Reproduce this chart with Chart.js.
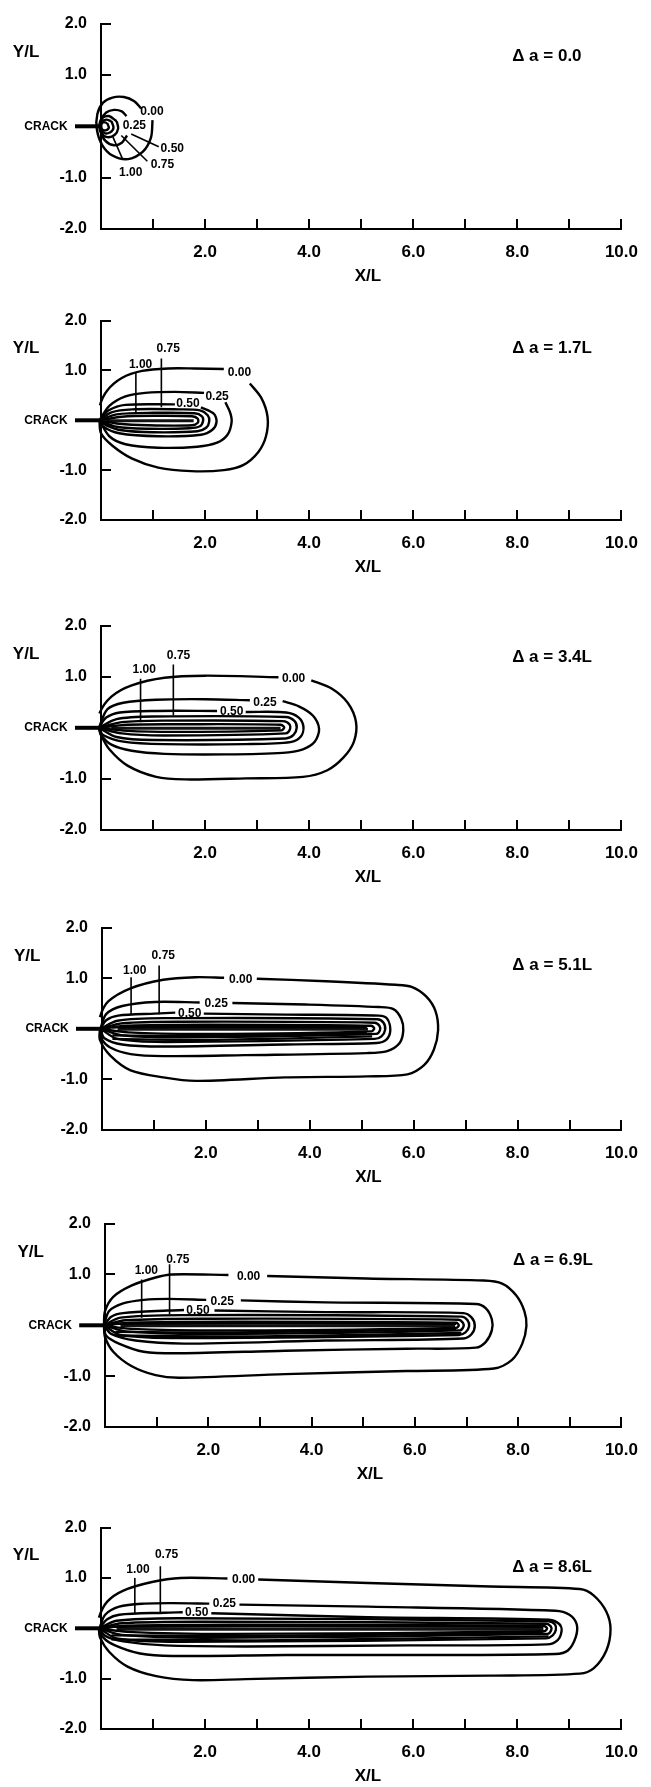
<!DOCTYPE html>
<html>
<head>
<meta charset="utf-8">
<title>Contours ahead of a growing crack</title>
<script src="https://cdn.jsdelivr.net/npm/chart.js"></script>
<style>
  body { margin: 0; background: #fff; width: 651px; height: 1787px; overflow: hidden; position: relative; }
  canvas { position: absolute; left: 0; }
</style>
</head>
<body>
<canvas id="c0" width="651" height="300"></canvas>
<canvas id="c1" width="651" height="300"></canvas>
<canvas id="c2" width="651" height="300"></canvas>
<canvas id="c3" width="651" height="300"></canvas>
<canvas id="c4" width="651" height="300"></canvas>
<canvas id="c5" width="651" height="300"></canvas>
<script>
// ---- data (X/L, Y/L) ----
const xTicks = [0, 1, 2, 3, 4, 5, 6, 7, 8, 9, 10];
const yTicks = [-2, -1, 0, 1, 2];
const deltaText = ['Δ a = 0.0', 'Δ a = 1.7L', 'Δ a = 3.4L', 'Δ a = 5.1L', 'Δ a = 6.9L', 'Δ a = 8.6L'];
const deltaY = [1.37, 1.44, 1.38, 1.26, 1.28, 1.21];
const crackLine = [[-0.5, 0], [0, 0]];

// panel 1, da = 0
const p1c000 = [[0.99,0.12],[0.96,-0.22],[0.8,-0.5],[0.52,-0.64],[0.22,-0.57],[0.02,-0.36],[-0.08,-0.06],[-0.07,0.24],[0.04,0.46],[0.22,0.56],[0.44,0.57],[0.64,0.49],[0.77,0.35]];
const p1c025 = [[0.5,-0.18],[0.4,-0.32],[0.25,-0.37],[0.08,-0.28],[0.0,-0.1],[0.01,0.13],[0.1,0.27],[0.25,0.32],[0.4,0.29],[0.49,0.2]];
const p1c050 = [[0.3,0.1],[0.15,0.2],[0.02,0.16],[-0.03,0.02],[0.0,-0.13],[0.12,-0.21],[0.26,-0.17],[0.33,-0.04],[0.3,0.1]];
const p1c075 = [[0.2,0.1],[0.1,0.13],[0.0,0.08],[-0.01,-0.04],[0.06,-0.13],[0.17,-0.12],[0.24,-0.03],[0.2,0.1]];
const p1c100 = [[0.12,0.06],[0.05,0.08],[0.0,0.02],[0.02,-0.06],[0.09,-0.08],[0.15,-0.03],[0.12,0.06]];
const p1l050 = [[0.58,-0.15],[1.11,-0.4]];
const p1l075 = [[0.39,-0.18],[0.89,-0.68]];
const p1l100 = [[0.23,-0.21],[0.42,-0.65]];
const p1Labels = [['0.00',0.98,0.28],['0.25',0.64,0.02],['0.50',1.37,-0.44],['0.75',1.18,-0.74],['1.00',0.57,-0.9]];

// panel 2, da = 1.7L
const p2c000a = [[-0.03,0.0],[-0.02,0.3],[0.12,0.6],[0.4,0.85],[0.79,0.99],[1.29,1.04],[1.8,1.04],[2.36,1.03]];
const p2c000b = [[2.86,0.74],[3.08,0.45],[3.2,0.07],[3.17,-0.32],[3.02,-0.64],[2.73,-0.9],[2.36,-1.0],[1.73,-1.02],[1.1,-0.95],[0.6,-0.77],[0.22,-0.51],[0.0,-0.26],[-0.03,0.0]];
const p2c025a = [[-0.03,0.0],[0.16,0.29],[0.47,0.48],[0.85,0.55],[1.42,0.57],[1.98,0.55]];
const p2c025b = [[2.39,0.36],[2.48,0.16],[2.51,-0.03],[2.43,-0.29],[2.23,-0.45],[1.85,-0.53],[1.1,-0.55],[0.47,-0.48],[0.16,-0.32],[-0.03,0.0]];
const p2c050a = [[-0.03,0.0],[0.15,0.2],[0.47,0.31],[1.42,0.32]];
const p2c050b = [[1.92,0.26],[2.17,0.13],[2.22,-0.03],[2.14,-0.19],[1.92,-0.29],[1.1,-0.32],[0.35,-0.26],[0.03,-0.12],[-0.03,0.0]];
const p2c075 = [[-0.03,0.0],[0.2,0.16],[0.6,0.22],[1.5,0.22],[1.9,0.2],[2.05,0.1],[2.08,-0.02],[2.02,-0.15],[1.85,-0.22],[1.0,-0.24],[0.4,-0.2],[0.1,-0.1],[-0.03,0.0]];
const p2c100 = [[-0.03,0.0],[0.3,0.12],[1.0,0.15],[1.8,0.14],[1.94,0.08],[1.96,-0.02],[1.9,-0.12],[1.7,-0.16],[0.9,-0.17],[0.3,-0.13],[-0.03,0.0]];
const p2c125 = [[-0.03,0.0],[0.4,0.07],[1.0,0.09],[1.75,0.08],[1.86,0.03],[1.86,-0.05],[1.75,-0.1],[0.9,-0.1],[0.35,-0.07],[-0.03,0.0]];
const p2core = [[0.1,-0.01],[1.78,-0.01]];
const p2l100 = [[0.67,0.97],[0.67,0.13]];
const p2l075 = [[1.16,1.24],[1.16,0.26]];
const p2Labels = [['0.00',2.66,0.95],['0.25',2.23,0.47],['0.50',1.67,0.34],['1.00',0.76,1.12],['0.75',1.29,1.44]];

// panel 3, da = 3.4L
const p3c000a = [[-0.04,0.0],[-0.03,0.28],[0.2,0.61],[0.59,0.83],[1.22,0.98],[2.0,1.02],[3.41,0.99]];
const p3c000b = [[4.04,0.93],[4.43,0.77],[4.74,0.49],[4.9,0.11],[4.86,-0.27],[4.66,-0.58],[4.35,-0.83],[3.88,-0.96],[2.78,-0.99],[1.61,-1.01],[1.06,-0.96],[0.51,-0.74],[0.16,-0.42],[0.0,-0.14],[-0.04,0.0]];
const p3c025a = [[-0.04,0.0],[0.12,0.36],[0.43,0.49],[1.06,0.55],[2.0,0.56],[2.86,0.54]];
const p3c025b = [[3.49,0.52],[3.8,0.42],[4.07,0.24],[4.19,-0.02],[4.11,-0.27],[3.88,-0.42],[3.49,-0.49],[2.39,-0.52],[1.22,-0.51],[0.59,-0.45],[0.2,-0.33],[0.0,-0.14],[-0.04,0.0]];
const p3c050a = [[-0.04,0.0],[0.1,0.2],[0.36,0.3],[1.06,0.33],[2.23,0.33]];
const p3c050b = [[2.78,0.31],[3.56,0.3],[3.8,0.2],[3.89,0.02],[3.84,-0.17],[3.64,-0.28],[2.78,-0.32],[1.22,-0.32],[0.43,-0.27],[0.04,-0.14],[-0.04,0.0]];
const p3c075 = [[-0.04,0.0],[0.3,0.17],[1.0,0.22],[3.55,0.21],[3.72,0.13],[3.76,0.0],[3.7,-0.14],[3.55,-0.21],[1.0,-0.24],[0.3,-0.18],[-0.04,0.0]];
const p3c100 = [[-0.04,0.0],[0.4,0.11],[1.2,0.14],[3.5,0.13],[3.62,0.07],[3.63,-0.03],[3.55,-0.11],[1.2,-0.15],[0.4,-0.11],[-0.04,0.0]];
const p3c125 = [[-0.04,0.0],[0.5,0.06],[1.5,0.07],[3.45,0.06],[3.52,0.01],[3.47,-0.05],[1.5,-0.08],[0.5,-0.06],[-0.04,0.0]];
const p3core = [[0.2,-0.01],[3.45,-0.01]];
const p3l100 = [[0.76,0.96],[0.76,0.11]];
const p3l075 = [[1.39,1.24],[1.39,0.24]];
const p3Labels = [['0.00',3.7,0.96],['0.25',3.15,0.5],['0.50',2.51,0.31],['1.00',0.83,1.13],['0.75',1.49,1.41]];

// panel 4, da = 5.1L
const p4c000a = [[-0.04,0.0],[-0.04,0.23],[0.12,0.54],[0.55,0.8],[1.18,0.97],[1.8,1.02],[2.35,1.01]];
const p4c000b = [[2.98,0.99],[4.31,0.94],[5.65,0.87],[5.96,0.83],[6.24,0.64],[6.42,0.35],[6.47,-0.03],[6.39,-0.41],[6.2,-0.72],[5.88,-0.9],[5.1,-0.94],[3.53,-0.96],[1.8,-1.03],[1.18,-0.96],[0.55,-0.82],[0.16,-0.53],[-0.04,-0.22],[-0.04,0.0]];
const p4c025a = [[-0.03,0.0],[0.08,0.29],[0.39,0.45],[1.02,0.53],[1.88,0.52]];
const p4c025b = [[2.51,0.51],[3.92,0.48],[5.33,0.43],[5.61,0.39],[5.76,0.2],[5.8,-0.03],[5.73,-0.28],[5.49,-0.44],[5.1,-0.48],[2.75,-0.52],[1.18,-0.54],[0.55,-0.5],[0.16,-0.37],[-0.02,-0.18],[-0.03,0.0]];
const p4c050a = [[-0.03,0.0],[0.08,0.17],[0.31,0.26],[1.02,0.3],[1.41,0.32]];
const p4c050b = [[1.96,0.3],[3.53,0.28],[5.33,0.26],[5.49,0.2],[5.55,-0.03],[5.47,-0.22],[5.29,-0.28],[3.53,-0.31],[1.18,-0.35],[0.39,-0.31],[0.04,-0.18],[-0.03,0.0]];
const p4c075 = [[-0.03,0.0],[0.3,0.16],[1.2,0.21],[5.3,0.19],[5.42,0.12],[5.45,-0.02],[5.38,-0.15],[5.25,-0.2],[1.2,-0.26],[0.3,-0.2],[-0.03,0.0]];
const p4c100 = [[-0.03,0.0],[0.4,0.11],[1.5,0.14],[5.25,0.12],[5.34,0.06],[5.35,-0.03],[5.28,-0.1],[1.5,-0.17],[0.4,-0.13],[-0.03,0.0]];
const p4c125 = [[-0.03,0.0],[0.5,0.06],[2.0,0.08],[5.18,0.06],[5.24,0.01],[5.19,-0.05],[2.0,-0.1],[0.5,-0.07],[-0.03,0.0]];
const p4c150 = [[0.2,-0.13],[2.0,-0.14],[5.1,-0.08]];
const p4c175 = [[0.2,0.03],[2.0,0.04],[5.1,0.03]];
const p4c200 = [[0.2,-0.2],[2.0,-0.22],[5.2,-0.15]];
const p4core = [[0.3,-0.01],[5.12,-0.01]];
const p4l100 = [[0.56,1.02],[0.56,0.29]];
const p4l075 = [[1.1,1.25],[1.1,0.29]];
const p4Labels = [['0.00',2.67,0.98],['0.25',2.2,0.5],['0.50',1.69,0.29],['1.00',0.63,1.15],['0.75',1.18,1.44]];

// panel 5, da = 6.9L
const p5c000a = [[-0.02,0.0],[0.0,0.28],[0.16,0.56],[0.51,0.78],[0.98,0.94],[1.29,1.0],[2.39,0.99]];
const p5c000b = [[3.14,0.97],[5.06,0.92],[7.33,0.88],[7.69,0.82],[7.96,0.59],[8.12,0.28],[8.16,-0.01],[8.08,-0.36],[7.88,-0.68],[7.53,-0.85],[5.84,-0.9],[3.49,-0.96],[1.45,-1.03],[0.98,-0.98],[0.51,-0.8],[0.16,-0.52],[0.0,-0.23],[-0.02,0.0]];
const p5c025a = [[-0.02,0.0],[0.08,0.28],[0.35,0.43],[0.75,0.5],[1.22,0.52],[1.96,0.5]];
const p5c025b = [[2.63,0.49],[4.27,0.45],[7.18,0.42],[7.37,0.34],[7.49,0.12],[7.49,-0.1],[7.37,-0.33],[7.18,-0.44],[5.84,-0.46],[3.49,-0.5],[1.45,-0.55],[0.75,-0.52],[0.27,-0.36],[0.02,-0.2],[-0.02,0.0]];
const p5c050a = [[-0.02,0.0],[0.12,0.17],[0.35,0.24],[1.22,0.29],[1.53,0.3]];
const p5c050b = [[2.12,0.29],[4.27,0.26],[6.94,0.24],[7.1,0.15],[7.16,-0.01],[7.1,-0.17],[6.94,-0.26],[4.27,-0.3],[1.53,-0.36],[0.59,-0.3],[0.12,-0.17],[-0.02,0.0]];
const p5c075 = [[-0.02,0.0],[0.3,0.15],[1.5,0.2],[6.9,0.17],[7.02,0.1],[7.05,-0.02],[6.98,-0.14],[6.85,-0.19],[1.5,-0.25],[0.3,-0.19],[-0.02,0.0]];
const p5c100 = [[-0.02,0.0],[0.4,0.1],[2.0,0.13],[6.85,0.11],[6.93,0.05],[6.94,-0.03],[6.87,-0.1],[2.0,-0.17],[0.4,-0.12],[-0.02,0.0]];
const p5c125 = [[-0.02,0.0],[0.5,0.05],[2.5,0.07],[6.8,0.05],[6.85,0.0],[6.8,-0.05],[2.5,-0.1],[0.5,-0.07],[-0.02,0.0]];
const p5c150 = [[0.2,-0.13],[2.5,-0.14],[6.8,-0.08]];
const p5c175 = [[0.2,0.03],[3.0,0.04],[6.8,0.03]];
const p5c200 = [[0.2,-0.2],[3.0,-0.22],[6.9,-0.15]];
const p5core = [[0.3,-0.01],[6.78,-0.01]];
const p5l100 = [[0.71,0.9],[0.71,0.15]];
const p5l075 = [[1.25,1.2],[1.25,0.21]];
const p5Labels = [['0.00',2.78,0.95],['0.25',2.27,0.46],['0.50',1.8,0.29],['1.00',0.8,1.08],['0.75',1.41,1.3]];

// panel 6, da = 8.6L
const p6c000a = [[-0.04,0.0],[-0.04,0.21],[0.12,0.53],[0.43,0.75],[0.98,0.92],[1.53,1.0],[2.43,0.99]];
const p6c000b = [[3.02,0.97],[5.13,0.9],[7.48,0.83],[9.2,0.78],[9.47,0.65],[9.71,0.33],[9.79,-0.02],[9.71,-0.44],[9.47,-0.79],[9.2,-0.9],[7.48,-0.94],[5.13,-0.96],[2.78,-1.01],[1.77,-1.03],[1.06,-0.95],[0.51,-0.76],[0.16,-0.47],[-0.02,-0.18],[-0.04,0.0]];
const p6c025a = [[-0.03,0.0],[0.08,0.27],[0.35,0.43],[0.83,0.49],[1.37,0.5],[2.08,0.49]];
const p6c025b = [[2.66,0.47],[5.13,0.43],[8.73,0.35],[9.0,0.27],[9.14,0.08],[9.12,-0.18],[8.97,-0.44],[8.73,-0.51],[5.91,-0.53],[3.56,-0.53],[1.37,-0.55],[0.75,-0.5],[0.27,-0.34],[0.04,-0.18],[-0.03,0.0]];
const p6c050a = [[-0.03,0.0],[0.12,0.18],[0.35,0.27],[1.22,0.31],[1.57,0.32]];
const p6c050b = [[2.12,0.3],[5.13,0.22],[8.61,0.17],[8.81,0.08],[8.85,-0.05],[8.77,-0.24],[8.57,-0.32],[5.91,-0.34],[2.78,-0.36],[1.22,-0.34],[0.43,-0.26],[0.08,-0.15],[-0.03,0.0]];
const p6c075 = [[-0.03,0.0],[0.3,0.15],[1.5,0.2],[8.6,0.14],[8.72,0.08],[8.74,-0.03],[8.68,-0.14],[8.55,-0.2],[1.5,-0.27],[0.3,-0.2],[-0.03,0.0]];
const p6c100 = [[-0.03,0.0],[0.4,0.1],[2.0,0.13],[8.55,0.09],[8.64,0.04],[8.65,-0.04],[8.58,-0.11],[2.0,-0.19],[0.4,-0.13],[-0.03,0.0]];
const p6c125 = [[-0.03,0.0],[0.5,0.05],[2.5,0.07],[8.5,0.05],[8.57,0.0],[8.52,-0.06],[2.5,-0.11],[0.5,-0.07],[-0.03,0.0]];
const p6c150 = [[0.2,-0.14],[3.0,-0.15],[8.5,-0.09]];
const p6c175 = [[0.2,0.03],[3.0,0.04],[8.5,0.03]];
const p6c200 = [[0.2,-0.22],[3.0,-0.24],[8.6,-0.16]];
const p6core = [[0.3,-0.02],[8.5,-0.02]];
const p6l100 = [[0.65,1.0],[0.65,0.3]];
const p6l075 = [[1.14,1.23],[1.14,0.3]];
const p6Labels = [['0.00',2.74,0.96],['0.25',2.37,0.48],['0.50',1.84,0.32],['1.00',0.71,1.17],['0.75',1.26,1.46]];

// ---- layout of the six stacked panels (page pixels) ----
const plotTop = [16, 313, 618, 920, 1216, 1520];
const plotBottom = [229, 520, 830, 1130, 1427, 1729];
const plotLeft = [101, 101, 101, 102, 105, 101];
const plotRight = [633, 633, 634, 635, 637, 635];
const PAD_TOP = 16, CANVAS_H = 300;
const FONT = "'Liberation Sans', Arial, sans-serif";

const panels = [
  { contours: [p1c000, p1c025, p1c050, p1c075, p1c100], leaders: [p1l050, p1l075, p1l100], core: null, labels: p1Labels },
  { contours: [p2c000a, p2c000b, p2c025a, p2c025b, p2c050a, p2c050b, p2c075, p2c100, p2c125], leaders: [p2l100, p2l075], core: p2core, labels: p2Labels },
  { contours: [p3c000a, p3c000b, p3c025a, p3c025b, p3c050a, p3c050b, p3c075, p3c100, p3c125], leaders: [p3l100, p3l075], core: p3core, labels: p3Labels },
  { contours: [p4c000a, p4c000b, p4c025a, p4c025b, p4c050a, p4c050b, p4c075, p4c100, p4c125, p4c150, p4c175, p4c200], leaders: [p4l100, p4l075], core: p4core, labels: p4Labels },
  { contours: [p5c000a, p5c000b, p5c025a, p5c025b, p5c050a, p5c050b, p5c075, p5c100, p5c125, p5c150, p5c175, p5c200], leaders: [p5l100, p5l075], core: p5core, labels: p5Labels },
  { contours: [p6c000a, p6c000b, p6c025a, p6c025b, p6c050a, p6c050b, p6c075, p6c100, p6c125, p6c150, p6c175, p6c200], leaders: [p6l100, p6l075], core: p6core, labels: p6Labels }
];

const pts = arr => arr.map(p => ({ x: p[0], y: p[1] }));

// inward tick marks and the free text of each panel
const panelText = {
  id: 'panelText',
  afterDraw(chart, args, opts) {
    const { ctx, chartArea: a, scales: { x, y } } = chart;
    ctx.save();
    ctx.strokeStyle = '#000';
    ctx.lineWidth = 2;
    ctx.beginPath();
    xTicks.forEach(v => {
      if (v === 0) return;
      const px = Math.round(x.getPixelForValue(v));
      ctx.moveTo(px, a.bottom);
      ctx.lineTo(px, a.bottom - 10);
    });
    yTicks.forEach(v => {
      if (v === 0) return;
      const py = Math.round(y.getPixelForValue(v));
      ctx.moveTo(a.left, py);
      ctx.lineTo(a.left + 10, py);
    });
    ctx.stroke();

    ctx.fillStyle = '#000';
    ctx.textBaseline = 'middle';
    // crack label
    ctx.font = 'bold 12px ' + FONT;
    ctx.textAlign = 'right';
    ctx.fillText('CRACK', x.getPixelForValue(-0.64), y.getPixelForValue(0));
    // axis names
    ctx.font = 'bold 17px ' + FONT;
    ctx.textAlign = 'center';
    ctx.fillText('Y/L', x.getPixelForValue(-1.44), y.getPixelForValue(1.44));
    ctx.fillText('X/L', x.getPixelForValue(5.13), a.bottom + 47);
    // crack extension
    ctx.font = 'bold 17px ' + FONT;
    ctx.textAlign = 'left';
    ctx.fillText(opts.delta, x.getPixelForValue(7.9), y.getPixelForValue(opts.deltaY));
    // contour values
    ctx.font = 'bold 12px ' + FONT;
    ctx.textAlign = 'center';
    opts.labels.forEach(l => ctx.fillText(l[0], x.getPixelForValue(l[1]), y.getPixelForValue(l[2])));
    ctx.restore();
  }
};

panels.forEach((p, i) => {
  const cv = document.getElementById('c' + i);
  cv.style.top = (plotTop[i] - PAD_TOP) + 'px';
  const plotH = plotBottom[i] - plotTop[i];

  const datasets = [];
  p.contours.forEach(c => datasets.push({ data: pts(c), borderColor: '#000', borderWidth: 2.4, tension: 0.3 }));
  if (p.core) datasets.push({ data: pts(p.core), borderColor: '#111', borderWidth: 3, tension: 0 });
  p.leaders.forEach(l => datasets.push({ data: pts(l), borderColor: '#000', borderWidth: 1.6, tension: 0 }));
  datasets.push({ data: pts(crackLine), borderColor: '#000', borderWidth: 4, tension: 0 });

  new Chart(cv, {
    type: 'scatter',
    data: { datasets: datasets },
    options: {
      responsive: false,
      animation: false,
      events: [],
      datasets: { scatter: { showLine: true, pointRadius: 0, fill: false, clip: false } },
      layout: { padding: { top: PAD_TOP, right: 651 - plotRight[i], left: 0, bottom: 0 } },
      plugins: {
        legend: { display: false },
        tooltip: { enabled: false },
        panelText: { delta: deltaText[i], deltaY: deltaY[i], labels: p.labels }
      },
      scales: {
        x: {
          type: 'linear', min: 0, max: 10,
          afterBuildTicks: s => { s.ticks = xTicks.map(v => ({ value: v })); },
          afterFit: s => { s.height = CANVAS_H - PAD_TOP - plotH; },
          grid: { display: false, drawTicks: false },
          border: { display: true, color: '#000', width: 2 },
          ticks: {
            autoSkip: false, maxRotation: 0, padding: 13, color: '#000',
            font: { family: FONT, size: 17, weight: 'bold' },
            callback: v => (v > 0 && v % 2 === 0) ? v.toFixed(1) : ''
          }
        },
        y: {
          type: 'linear', min: -2, max: 2,
          afterBuildTicks: s => { s.ticks = yTicks.map(v => ({ value: v })); },
          afterFit: s => { s.width = plotLeft[i]; },
          grid: { display: false, drawTicks: false },
          border: { display: true, color: '#000', width: 2 },
          ticks: {
            padding: 14, color: '#000',
            font: { family: FONT, size: 16, weight: 'bold' },
            callback: v => v === 0 ? '' : v.toFixed(1)
          }
        }
      }
    },
    plugins: [panelText]
  });
});
</script>
</body>
</html>
